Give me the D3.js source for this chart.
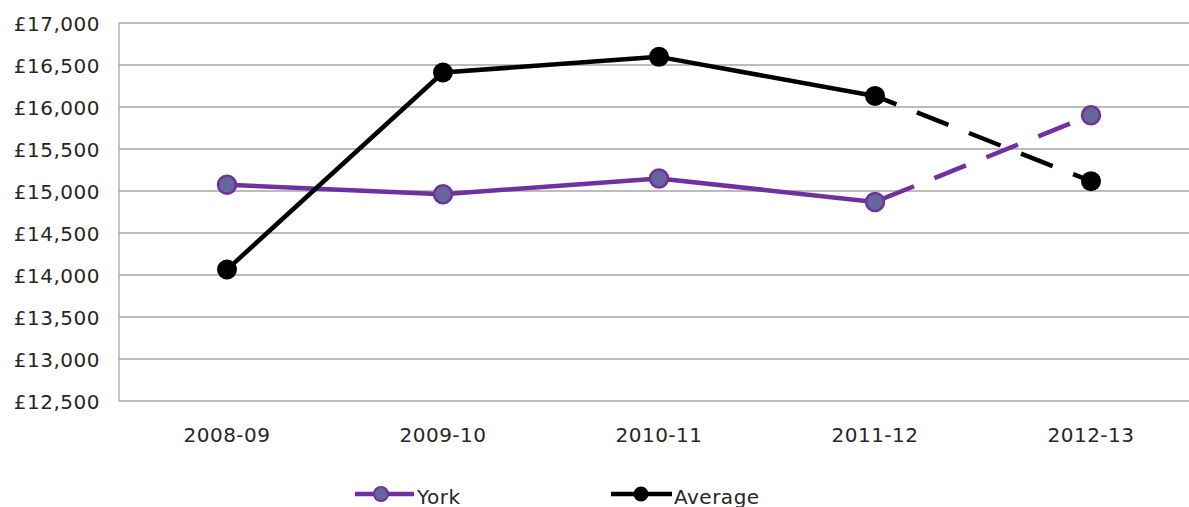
<!DOCTYPE html>
<html><head><meta charset="utf-8">
<script src="https://cdn.jsdelivr.net/npm/d3@7"></script>
<style>
html,body{margin:0;padding:0;background:#fff;overflow:hidden}
text{font-family:"DejaVu Sans",Verdana,sans-serif;fill:#262626;letter-spacing:0.5px}
</style></head><body>
<svg id="c" width="1189" height="507"></svg>
<script>
const categories = ["2008-09","2009-10","2010-11","2011-12","2012-13"];
const yorkValues = [15075, 14962, 15149, 14870, 15902];
const averageValues = [14065, 16411, 16597, 16132, 15117];
const yTicks = [12500,13000,13500,14000,14500,15000,15500,16000,16500,17000];
const seriesNames = ["York","Average"];

const svg = d3.select("#c");
const pLeft = 119, pTop = 23, pBottom = 401, pRight = 1199;
const x = d3.scaleBand().domain(categories).range([pLeft, pRight]);
const y = d3.scaleLinear().domain([12500,17000]).range([pBottom, pTop]);
const fs = 20;

// gridlines
svg.append("g").selectAll("line").data(yTicks).join("line")
  .attr("x1", pLeft).attr("x2", pRight)
  .attr("y1", d=>y(d)).attr("y2", d=>y(d))
  .attr("stroke", "#a6a6a6").attr("stroke-width", 1.3);
svg.append("line").attr("x1",pLeft).attr("x2",pLeft).attr("y1",pTop).attr("y2",pBottom)
  .attr("stroke","#a6a6a6").attr("stroke-width",1.3);

// y labels
const fmt = d => "£" + d3.format(",")(d);
svg.append("g").selectAll("text").data(yTicks).join("text")
  .attr("x", 100).attr("y", d=>y(d)+7.5)
  .attr("text-anchor","end").style("font-size", fs+"px").text(fmt);

// x labels
svg.append("g").selectAll("text").data(categories).join("text")
  .attr("x", d=>x(d)+x.bandwidth()/2).attr("y", 442)
  .attr("text-anchor","middle").style("font-size", fs+"px").text(d=>d);

const cx = d => x(d)+x.bandwidth()/2;
function drawSeries(vals, color, fill, strokeMarker, dashOffset) {
  const pts = categories.map((c,i)=>[cx(c), y(vals[i])]);
  const line = d3.line();
  svg.append("path").attr("d", line(pts.slice(0,4))).attr("fill","none")
    .attr("stroke", color).attr("stroke-width", 4.5).attr("stroke-linejoin","round");
  svg.append("path").attr("d", line(pts.slice(3,5))).attr("fill","none")
    .attr("stroke", color).attr("stroke-width", 4.5).attr("stroke-dasharray","34,22")
    .attr("stroke-dashoffset", dashOffset);
  svg.append("g").selectAll("circle").data(pts).join("circle")
    .attr("cx", d=>d[0]).attr("cy", d=>d[1]).attr("r", strokeMarker ? 9 : 10)
    .attr("fill", fill).attr("stroke", strokeMarker ? color : "none").attr("stroke-width", 2.5);
}
drawSeries(yorkValues, "#7030a0", "#65669a", true, -8);
drawSeries(averageValues, "#000000", "#000000", false, 11);

// legend
const legend = [
  {name: seriesNames[0], x1: 355, x2: 414, cx: 381, color:"#7030a0", fill:"#65669a", stroke:true, tx: 417},
  {name: seriesNames[1], x1: 611, x2: 672, cx: 641, color:"#000", fill:"#000", stroke:false, tx: 674}
];
const ly = 494;
legend.forEach(l=>{
  svg.append("line").attr("x1",l.x1).attr("x2",l.x2).attr("y1",ly).attr("y2",ly)
    .attr("stroke", l.color).attr("stroke-width", 4.5);
  svg.append("circle").attr("cx", l.cx).attr("cy", ly).attr("r", l.stroke?7:7.5)
    .attr("fill", l.fill).attr("stroke", l.stroke?l.color:"none").attr("stroke-width",2);
  svg.append("text").attr("x", l.tx).attr("y", 503.5)
    .style("font-size", fs+"px").text(l.name);
});
</script>
</body></html>
